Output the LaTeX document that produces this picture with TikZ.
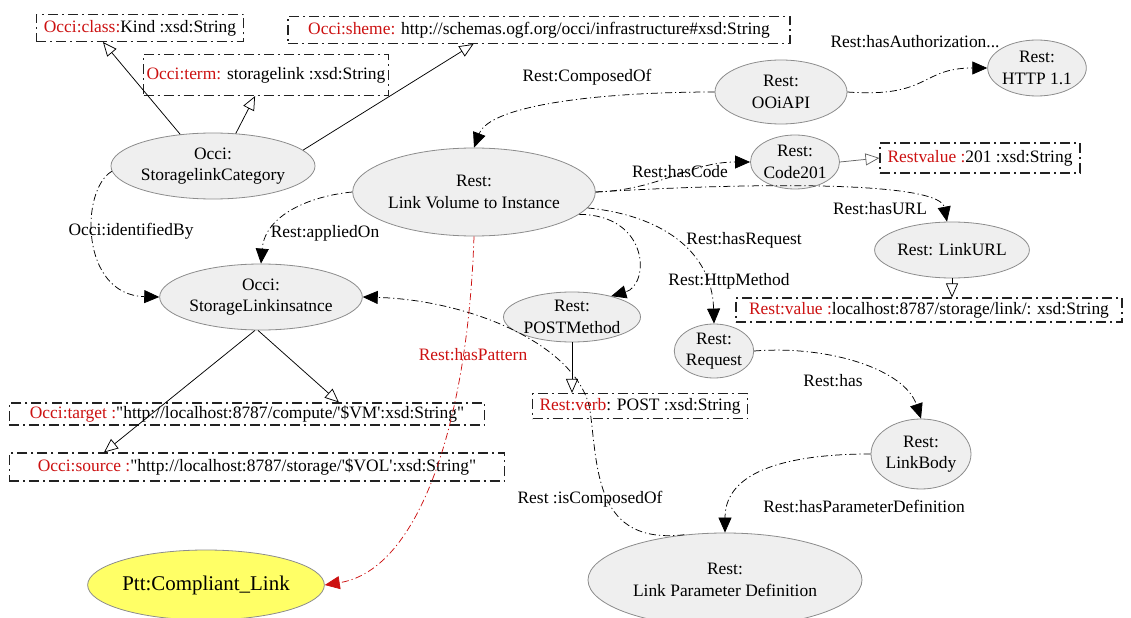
\documentclass[tikz,border=0pt]{standalone}
\usepackage{fontspec}
\setmainfont{Liberation Serif}[Ligatures=TeXOff]
\usetikzlibrary{shapes.geometric,arrows.meta}
\definecolor{lblred}{HTML}{CC1111}
\definecolor{nodefill}{HTML}{EFEFEF}
\definecolor{nodeline}{HTML}{8C8C8C}
\definecolor{boxline}{HTML}{222222}
\definecolor{pttfill}{HTML}{FFFF66}
\newcommand{\rd}[1]{\textcolor{lblred}{#1}}
\begin{document}
\begin{tikzpicture}[x=1bp,y=-1bp,
  every node/.style={font=\fontsize{17.5}{21.5}\selectfont, inner sep=0pt},
  cls/.style={ellipse, draw=nodeline, fill=nodefill, line width=0.8bp, align=center},
  lit/.style={rectangle, draw=boxline, line width=1.1bp,
    dash pattern=on 10bp off 4bp on 2bp off 4bp, inner xsep=3bp, inner ysep=0pt,
    minimum height=27bp, anchor=center},
  rel/.style={draw=black, line width=0.75bp,
    dash pattern=on 7bp off 3bp on 1.2bp off 3bp,
    -{Triangle[length=15bp,width=13bp]}},
  isa/.style={draw=black, line width=0.75bp, -{Triangle[open,length=14bp,width=12bp]}},
  lbl/.style={font=\fontsize{17.5}{21.5}\selectfont}
]
\useasboundingbox (0,0) rectangle (1131,618);

% literal value boxes
\node[lit, minimum width=207bp] (kind) at (140,28) {\rd{Occi:class:}Kind :xsd:String};
\node[lit, minimum width=502bp] (scheme) at (539,30) {\rd{Occi:sheme:} http://schemas.ogf.org/occi/infrastructure\#xsd:String};
\node[lit, minimum width=233bp, minimum height=41bp] (term) at (266,75) {\rd{Occi:term:} storagelink :xsd:String};
\node[lit, minimum width=200bp, minimum height=30bp] (code val) at (980,158) {\rd{Restvalue :}201 :xsd:String};
\node[lit, minimum width=386bp, minimum height=24bp] (url val) at (929,310) {\rd{Rest:value :}localhost:8787/storage/link/: xsd:String};
\node[lit, minimum width=215bp, minimum height=25bp] (verb) at (640,406) {\rd{Rest:verb}: POST :xsd:String};
\node[lit, minimum width=475bp, minimum height=22bp] (target) at (247,414) {\rd{Occi:target :}"http://localhost:8787/compute/'\$VM':xsd:String"};
\node[lit, minimum width=495bp, minimum height=28bp] (source) at (257,467) {\rd{Occi:source :}"http://localhost:8787/storage/'\$VOL':xsd:String"};

% class and instance ellipses
\node[cls, minimum width=178bp, minimum height=66bp] (cat) at (213,166) {Occi:\\StoragelinkCategory};
\node[cls, minimum width=132bp, minimum height=64bp] (api) at (781,92) {Rest:\\OOiAPI};
\node[cls, minimum width=94bp, minimum height=56bp] (http) at (1037,68) {Rest:\\HTTP 1.1};
\node[cls, minimum width=196bp, minimum height=88bp] (link) at (474,192) {Rest:\\Link Volume to Instance};
\node[cls, minimum width=84bp, minimum height=54bp] (code) at (795,162) {Rest:\\Code201};
\node[cls, minimum width=94bp, minimum height=56bp] (url) at (952,250) {Rest: LinkURL};
\node[cls, minimum width=182bp, minimum height=66bp] (inst) at (261,297) {Occi:\\StorageLinkinsatnce};
\node[cls, minimum width=96bp, minimum height=50bp] (post) at (572,317) {Rest:\\POSTMethod};
\node[cls, minimum width=76bp, minimum height=54bp] (req) at (714,351) {Rest:\\Request};
\node[cls, minimum width=94bp, minimum height=70bp] (body) at (921,454) {Rest:\\LinkBody};
\node[cls, minimum width=274bp, minimum height=94bp] (param) at (725,580) {Rest:\\Link Parameter Definition};
\node[cls, fill=pttfill, minimum width=232bp, minimum height=70bp,
      font=\fontsize{21}{25}\selectfont] (ptt) at (206,585) {Ptt:Compliant\_Link};

% subclass / attribute links
\draw[isa] (cat.136) -- ([xshift=67bp]kind.south west);
\draw[isa] (cat.55) -- ([xshift=112bp]term.south west);
\draw[isa] (cat.10) -- ([xshift=186bp]scheme.south west);
\draw[isa, draw=black!60] (code.east) -- (code val.west);
\draw[isa] (url.south) -- (url.south |- url val.north);
\draw[isa] (post.south) -- (post.south |- verb.north);
\draw[isa] ([xshift=-3bp]inst.south) -- ([xshift=330bp]target.north west);
\draw[isa] ([xshift=-6bp]inst.south) -- ([xshift=95bp]source.north west);

% object properties
\draw[rel] (cat.183) .. controls (80,190) and (80,295) .. (inst.west);
\draw[rel] (api.west) .. controls (600,92) and (490,105) .. (link.north);
\draw[rel] (api.east) .. controls (930,98) and (920,68) .. (http.west);
\draw[rel] (link.east) .. controls (660,190) and (690,162) .. (code.west);
\draw[rel] (link.east) .. controls (800,180) and (940,185) .. (url.100);
\draw[rel] (link.west) .. controls (310,196) and (265,215) .. (inst.north);
\draw[rel] (link.-12) .. controls (650,215) and (650,285) .. (post.28);
\draw[rel] (link.-8) .. controls (660,215) and (712,250) .. (req.north);
\draw[rel] (req.east) .. controls (830,345) and (905,370) .. (body.north);
\draw[rel] (body.west) .. controls (790,454) and (725,470) .. (param.north);
\draw[rel] (param.132) .. controls (595,545) and (598,470) .. (590,410)
  .. controls (578,345) and (470,300) .. (inst.east);
\draw[rel, draw=lblred, -{Triangle[length=15bp,width=13bp,fill=lblred]}]
  (link.south) .. controls (468,420) and (420,570) .. (ptt.east);

% property labels
\node[lbl] (l ident) at (131,231) {Occi:identifiedBy};
\node[lbl] (l comp) at (587,77) {Rest:ComposedOf};
\node[lbl] (l auth) at (915,42) {Rest:hasAuthorization...};
\node[lbl] (l code) at (680,172) {Rest:hasCode};
\node[lbl] (l url) at (880,209) {Rest:hasURL};
\node[lbl] (l applied) at (325,233) {Rest:appliedOn};
\node[lbl] (l request) at (744,240) {Rest:hasRequest};
\node[lbl] (l method) at (729,281) {Rest:HttpMethod};
\node[lbl, text=lblred] (l pattern) at (473,355) {Rest:hasPattern};
\node[lbl] (l has) at (833,381) {Rest:has};
\node[lbl] (l isComp) at (590,499) {Rest :isComposedOf};
\node[lbl] (l paramdef) at (864,506) {Rest:hasParameterDefinition};
\end{tikzpicture}
\end{document}
